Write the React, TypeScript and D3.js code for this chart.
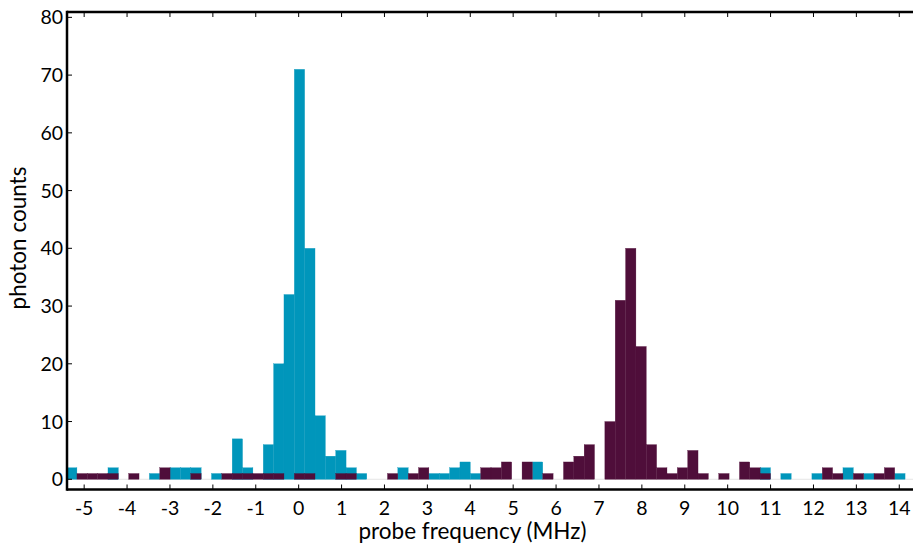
import React from "react";
import * as d3 from "d3";

// Histogram bins (MHz): first bin left edge and bin width
const binStart = -5.41;
const binWidth = 0.2413;

// Photon counts per bin (81 bins)
const cyanCounts = [
  2, 0, 0, 0, 2, 0, 0, 0, 1, 0,
  2, 2, 2, 0, 1, 0, 7, 2, 0, 6,
  20, 32, 71, 40, 11, 4, 5, 2, 1, 0,
  0, 0, 2, 0, 0, 1, 1, 2, 3, 1,
  0, 0, 0, 0, 0, 3, 0, 0, 0, 0,
  0, 0, 0, 0, 0, 0, 0, 0, 0, 0,
  0, 0, 0, 0, 0, 0, 0, 2, 0, 1,
  0, 0, 1, 0, 0, 2, 0, 1, 0, 0,
  1,
];

const purpleCounts = [
  0, 1, 1, 1, 1, 0, 1, 0, 0, 2,
  0, 0, 1, 0, 0, 1, 1, 1, 1, 1,
  1, 0, 1, 1, 0, 0, 1, 1, 0, 0,
  0, 1, 0, 1, 2, 0, 0, 0, 0, 0,
  2, 2, 3, 0, 3, 0, 1, 0, 3, 4,
  6, 0, 10, 31, 40, 23, 6, 2, 1, 2,
  5, 1, 0, 1, 0, 3, 2, 1, 0, 0,
  0, 0, 0, 2, 1, 0, 1, 0, 1, 2,
  0,
];

const xTicks = [-5, -4, -3, -2, -1, 0, 1, 2, 3, 4, 5, 6, 7, 8, 9, 10, 11, 12, 13, 14];
const yTicks = [0, 10, 20, 30, 40, 50, 60, 70, 80];

const xLabel = "probe frequency (MHz)";
const yLabel = "photon counts";

const CYAN = "#0096bb";
const PURPLE = "#4f0e3a";
const FONT = "Lato, 'Open Sans', sans-serif";

export default function App() {
  const W = 913;
  const H = 546;
  const left = 67;
  const right = 913;
  const top = 12;
  const bottom = 489.5;

  const x = d3.scaleLinear().domain([-5.4, 14.32]).range([left, right]);
  const y = d3.scaleLinear().domain([-1.77, 80.93]).range([bottom, top]);
  const bw = x(binWidth) - x(0);

  const bars = (counts: number[], color: string, key: string) =>
    counts.map((c, k) =>
      c > 0 ? (
        <rect
          key={key + k}
          x={x(binStart + k * binWidth)}
          y={y(c)}
          width={bw}
          height={y(0) - y(c)}
          fill={color}
          stroke={color}
          strokeWidth={0.3}
        />
      ) : null
    );

  return (
    <svg
      width={W}
      height={H}
      style={{ position: "absolute", left: 0, top: 0, display: "block", background: "#fff" }}
    >
      <defs>
        <clipPath id="plot">
          <rect x={left} y={top} width={right - left} height={bottom - top} />
        </clipPath>
      </defs>
      <g clipPath="url(#plot)">
        <line x1={left} x2={right} y1={y(0)} y2={y(0)} stroke="#e6e6e6" strokeWidth={1} />
        {bars(cyanCounts, CYAN, "c")}
        {bars(purpleCounts, PURPLE, "p")}
      </g>

      {/* ticks */}
      {xTicks.map((t) => (
        <g key={"xt" + t}>
          <line x1={x(t)} x2={x(t)} y1={bottom} y2={bottom - 5} stroke="#000" strokeWidth={1} />
          <line x1={x(t)} x2={x(t)} y1={top} y2={top + 5} stroke="#000" strokeWidth={1} />
          <text
            x={x(t)}
            y={515}
            textAnchor="middle"
            fontFamily={FONT}
            fontSize={19.5}
            fill="#000"
          >
            {String(t)}
          </text>
        </g>
      ))}
      {yTicks.map((t) => (
        <g key={"yt" + t}>
          <line x1={left} x2={left + 5} y1={y(t)} y2={y(t)} stroke="#000" strokeWidth={1} />
          <text
            x={63}
            y={y(t)}
            dy="0.36em"
            textAnchor="end"
            fontFamily={FONT}
            fontSize={19.5}
            fill="#000"
          >
            {String(t)}
          </text>
        </g>
      ))}

      {/* spines */}
      <line x1={left} x2={left} y1={top - 1.25} y2={bottom + 1.25} stroke="#000" strokeWidth={2.5} />
      <line x1={left} x2={right} y1={top} y2={top} stroke="#000" strokeWidth={2.5} />
      <line x1={left} x2={right} y1={bottom} y2={bottom} stroke="#000" strokeWidth={2.5} />

      {/* labels */}
      <text x={472.5} y={539} textAnchor="middle" fontFamily={FONT} fontSize={22.5} fill="#000">
        {xLabel}
      </text>
      <text
        transform={`translate(25.5, 238) rotate(-90)`}
        textAnchor="middle"
        fontFamily={FONT}
        fontSize={22.5}
        fill="#000"
      >
        {yLabel}
      </text>
    </svg>
  );
}
